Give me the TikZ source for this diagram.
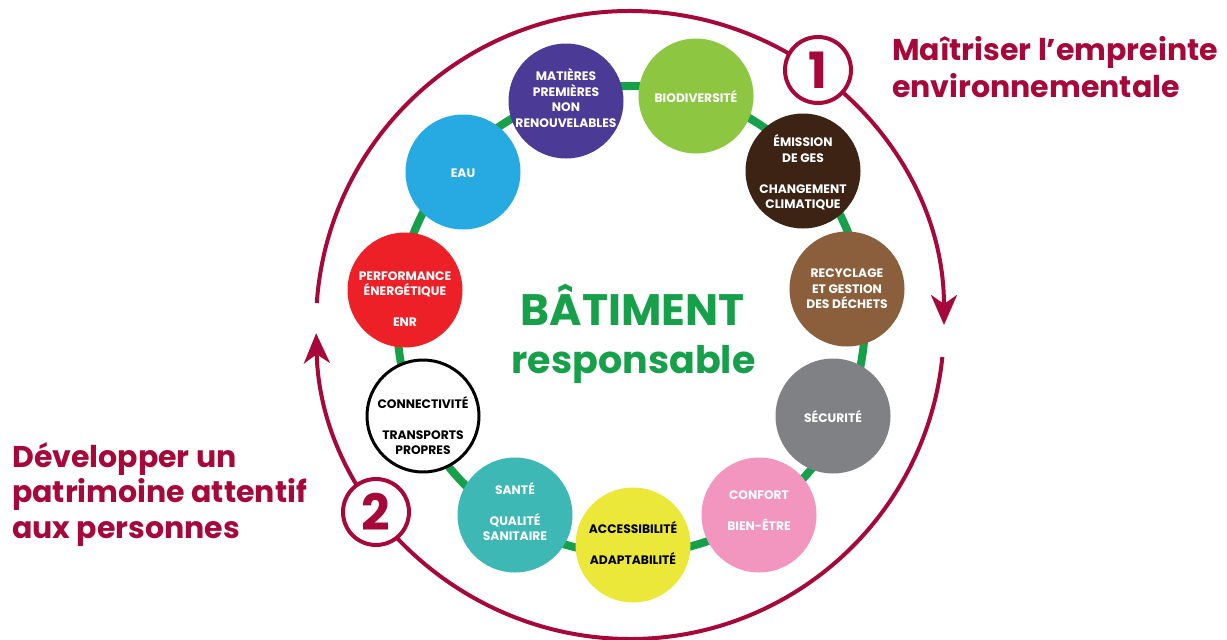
\documentclass[tikz,border=0pt]{standalone}
\usepackage{fontspec}
\setmainfont{Poppins}
\usetikzlibrary{arrows.meta}
\definecolor{cred}{RGB}{166,8,58}
\definecolor{cgreen}{RGB}{22,160,74}
\definecolor{cpurple}{RGB}{75,58,150}
\definecolor{clime}{RGB}{141,198,65}
\definecolor{cdbrown}{RGB}{61,35,20}
\definecolor{cbrown}{RGB}{139,94,60}
\definecolor{cgray}{RGB}{128,129,132}
\definecolor{cpink}{RGB}{242,149,191}
\definecolor{cyellow}{RGB}{235,232,57}
\definecolor{cteal}{RGB}{61,184,180}
\definecolor{cred2}{RGB}{238,32,39}
\definecolor{cblue}{RGB}{39,169,225}
\tikzset{
  disc/.style={circle, minimum size=115pt, inner sep=0pt, fill=#1},
  lbl/.style={align=center, inner sep=0pt, font=\bfseries\fontsize{12.3}{15.5}\selectfont, text=white},
  numcirc/.style={circle, minimum size=66pt, inner sep=0pt, draw=cred, line width=4pt, fill=white, text=cred, font=\bfseries\fontsize{50}{50}\selectfont},
  title/.style={anchor=base west, inner sep=0pt, text=cred, font=\bfseries\fontsize{30}{36}\selectfont},
  big/.style={anchor=base, inner sep=0pt, text=cgreen, font=\bfseries\fontsize{44}{50}\selectfont}
}
\begin{document}
\begin{tikzpicture}[x=1pt,y=1pt]
\useasboundingbox (0,0) rectangle (1227,-640);
\fill[white] (0,0) rectangle (1227,-640);
% green ring
\coordinate (rc) at (631,-320);
\draw[cgreen, line width=8pt] (rc) circle[radius=234];
% red outer arcs
\coordinate (oc) at (630,-325);
\draw[cred, line width=4pt, -{Stealth[length=30pt,width=26pt,inset=9pt]}] (oc) ++(176:314) arc[start angle=176, end angle=0, radius=314];
\draw[cred, line width=4pt, -{Stealth[length=30pt,width=26pt,inset=9pt]}] (oc) ++(-5.85:314) arc[start angle=-5.85, end angle=-178.5, radius=314];
\node[numcirc] (n1) at (818,-70) {1};
\node[numcirc] (n2) at (376,-512) {2};
% discs
\node[disc=cpurple] (mat) at (566,-101) {};
\node[disc=clime] (bio) at (696,-96) {};
\node[disc=cdbrown] (ges) at (803,-171) {};
\node[disc=cbrown] (rec) at (847,-289) {};
\node[disc=cgray] (sec) at (833,-416) {};
\node[disc=cpink] (conf) at (759,-515) {};
\node[disc=cyellow] (acc) at (633,-545) {};
\node[disc=cteal] (san) at (515,-515) {};
\node[disc=white, draw=black, line width=3pt, minimum size=112pt] (con) at (423,-416) {};
\node[disc=cred2] (perf) at (405,-290) {};
\node[disc=cblue] (eau) at (463,-172) {};
% labels
\node[lbl] at (566,-98) {MATIÈRES\\PREMIÈRES\\NON\\RENOUVELABLES};
\node[lbl] at (696,-97) {BIODIVERSITÉ};
\node[lbl] at (803,-172.5) {ÉMISSION\\DE GES\\[15.5pt]CHANGEMENT\\CLIMATIQUE};
\node[lbl] at (847,-289) {RECYCLAGE\\ET GESTION\\DES DÉCHETS};
\node[lbl] at (833,-417) {SÉCURITÉ};
\node[lbl] at (759,-510.5) {CONFORT\\[15.5pt]BIEN-ÊTRE};
\node[lbl, text=black] at (633,-543) {ACCESSIBILITÉ\\[15.5pt]ADAPTABILITÉ};
\node[lbl] at (515,-511.5) {SANTÉ\\[15.5pt]QUALITÉ\\SANITAIRE};
\node[lbl, text=black] at (423,-425.5) {CONNECTIVITÉ\\[15.5pt]TRANSPORTS\\PROPRES};
\node[lbl] at (405,-299) {PERFORMANCE\\ÉNERGÉTIQUE\\[15.5pt]ENR};
\node[lbl] at (463,-173) {EAU};
% center title
\node[big] (bat) at (632.5,-325) {BÂTIMENT};
\node[big, font=\bfseries\fontsize{38}{44}\selectfont] (resp) at (633.5,-373) {responsable};
% side texts
\node[title] (t1a) at (892,-60) {Maîtriser l’empreinte};
\node[title] (t1b) at (892,-97) {environnementale};
\node[title] (t2a) at (12,-467) {Développer un};
\node[title] (t2b) at (12,-502.5) {patrimoine attentif};
\node[title] (t2c) at (12,-538) {aux personnes};
\end{tikzpicture}
\end{document}
